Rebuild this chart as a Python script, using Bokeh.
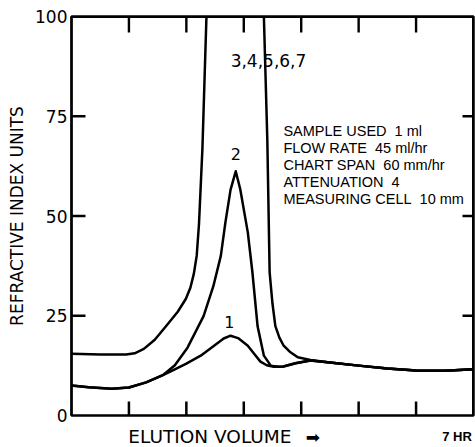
from bokeh.plotting import figure
from bokeh.models import Range1d, LinearAxis, FixedTicker, Label
from bokeh.layouts import column
from bokeh.embed import file_html
from bokeh.resources import INLINE

# ---- data (hours on chart, refractive index units) ----
hours_1 = [0.0, 0.3, 0.7, 1.0, 1.3, 1.6, 1.72, 2.0, 2.25, 2.5, 2.65, 2.77, 2.9, 3.07, 3.18,
           3.29, 3.4, 3.52, 3.69, 3.9, 4.16, 4.5, 5.0, 5.5, 6.0, 6.5, 7.0]
signal_1 = [7.5, 7.1, 6.7, 7.0, 8.3, 10.2, 11.0, 13.0, 15.0, 17.7, 19.3, 20.0, 19.4, 17.5, 15.5,
            13.5, 12.6, 12.2, 12.3, 13.1, 13.8, 13.3, 12.5, 11.8, 11.3, 11.2, 11.6]

hours_2 = [0.0, 0.3, 0.7, 1.0, 1.3, 1.6, 1.8, 2.02, 2.3, 2.47, 2.6, 2.68, 2.77, 2.86, 2.94,
           3.07, 3.15, 3.24, 3.35, 3.47, 3.6, 3.69, 3.9, 4.16, 4.5, 5.0, 5.5, 6.0, 6.5, 7.0]
signal_2 = [7.5, 7.1, 6.7, 7.0, 8.3, 10.2, 12.6, 17.0, 24.9, 32.4, 40.0, 48.4, 56.6, 61.2, 56.6,
            45.9, 35.9, 22.4, 15.0, 12.5, 12.2, 12.3, 13.1, 13.8, 13.3, 12.5, 11.8, 11.3, 11.2, 11.6]

hours_3 = [0.0, 0.5, 0.95, 1.1, 1.26, 1.45, 1.67, 1.85, 1.99, 2.07, 2.13, 2.18, 2.22, 2.28, 2.35,
           2.45, 2.85, 3.3, 3.35, 3.41, 3.45, 3.5, 3.55, 3.62, 3.69, 3.8, 3.94, 4.16, 4.5,
           5.0, 5.5, 6.0, 6.5, 7.0]
signal_3 = [15.5, 15.3, 15.3, 15.6, 16.7, 19.0, 22.8, 26.0, 29.2, 32.0, 35.5, 40.0, 48.0, 67.0, 100.0,
            125.0, 140.0, 120.0, 100.0, 69.0, 35.9, 28.0, 22.4, 19.5, 17.6, 16.0, 14.6, 13.9, 13.3,
            12.5, 11.8, 11.3, 11.2, 11.6]

y_ticks = [0, 25, 50, 75, 100]
side_ticks = [25, 50, 75]
x_ticks = [1, 2, 3, 4, 5, 6]
peak_labels = ["1", "2", "3,4,5,6,7"]
NB = "\u00a0"
info_lines = ["SAMPLE USED" + NB * 2 + "1 ml", "FLOW RATE" + NB * 2 + "45 ml/hr",
              "CHART SPAN" + NB * 2 + "60 mm/hr", "ATTENUATION" + NB * 2 + "4",
              "MEASURING CELL" + NB * 2 + "10 mm"]

FONT = "DejaVu Sans"
X0, X1, Y0, Y1 = 0, 7, 0, 100
W, H = 475, 425
BL, BR, BT, BB = 71, 2, 16, 10
FW, FH = W - BL - BR, H - BT - BB      # frame size in px
px_x = (X1 - X0) / FW                   # data units per px
px_y = (Y1 - Y0) / FH

p = figure(width=W, height=H, output_backend="svg", toolbar_location=None,
           x_range=Range1d(X0, X1), y_range=Range1d(Y0, Y1),
           x_axis_location=None, y_axis_location=None,
           min_border_left=BL, min_border_right=BR, min_border_top=BT, min_border_bottom=BB)
p.grid.visible = False
p.outline_line_color = "black"
p.outline_line_width = 2.5

left = LinearAxis(ticker=FixedTicker(ticks=y_ticks))
left.major_tick_in = 0
left.major_tick_out = 0
left.minor_tick_line_color = None
left.axis_line_width = 2
left.axis_line_color = "black"
left.major_label_text_font = FONT
left.major_label_text_font_size = "17px"
left.major_label_text_color = "black"
left.major_label_standoff = 4
left.axis_label = "REFRACTIVE INDEX UNITS"
left.axis_label_text_font = FONT
left.axis_label_text_font_size = "17px"
left.axis_label_text_font_style = "normal"
left.axis_label_text_color = "black"
left.axis_label_standoff = 5
p.add_layout(left, "left")

# frame edges (top and right) as thin filled bands inside the frame
edge = dict(fill_color="black", line_color=None)
p.quad(left=[X0], right=[X1], bottom=[Y1 - 1.5 * px_y], top=[Y1], **edge)
p.quad(left=[X1 - 1.5 * px_x], right=[X1], bottom=[Y0], top=[Y1], **edge)

# inward tick marks, placed at the tick values
hw_x, hw_y = 1.2 * px_x, 1.2 * px_y
p.quad(left=[X0] * 3, right=[X0 + 14 * px_x] * 3,
       bottom=[t - hw_y for t in side_ticks], top=[t + hw_y for t in side_ticks], **edge)
p.quad(left=[X1 - 11 * px_x] * 3, right=[X1] * 3,
       bottom=[t - hw_y for t in side_ticks], top=[t + hw_y for t in side_ticks], **edge)
p.quad(left=[t - hw_x for t in x_ticks], right=[t + hw_x for t in x_ticks],
       bottom=[Y1 - 16 * px_y] * 6, top=[Y1] * 6, **edge)
for t in x_ticks:
    p.line([t, t], [Y0, Y0 + 14 * px_y], line_color="black", line_width=2.5)

for xs, ys in [(hours_1, signal_1), (hours_2, signal_2), (hours_3, signal_3)]:
    p.line(xs, ys, line_color="black", line_width=2.5, line_join="round", line_cap="round")

p.add_layout(Label(x=2.75, y=23.5, text=peak_labels[0], text_font=FONT, text_font_size="16px",
                   text_align="center", text_baseline="middle", text_color="black"))
p.add_layout(Label(x=2.86, y=65.5, text=peak_labels[1], text_font=FONT, text_font_size="16px",
                   text_align="center", text_baseline="middle", text_color="black"))
p.add_layout(Label(x=3.43, y=89, text=peak_labels[2], text_font=FONT, text_font_size="17px",
                   text_align="center", text_baseline="middle", text_color="black"))

for i, line in enumerate(info_lines):
    p.add_layout(Label(x=3.69, y=71.3 - i * 4.25, text=line, text_font="Liberation Sans",
                       text_font_size="14.5px", text_align="left", text_baseline="middle",
                       text_color="black"))

# strip under the chart for the horizontal axis caption
s = figure(width=W, height=22, output_backend="svg", toolbar_location=None,
           x_range=Range1d(X0, X1), y_range=Range1d(0, 1),
           x_axis_location=None, y_axis_location=None,
           min_border_left=BL, min_border_right=BR, min_border_top=0, min_border_bottom=0)
s.grid.visible = False
s.outline_line_color = None
s.add_layout(Label(x=0.99, y=0.5, text="ELUTION VOLUME", text_font=FONT,
                   text_font_size="18.5px", text_align="left", text_baseline="middle",
                   text_color="black"))
s.add_layout(Label(x=4.08, y=0.5, text="\u27a1", text_font=FONT,
                   text_font_size="17px", text_align="left", text_baseline="middle",
                   text_color="black"))
s.add_layout(Label(x=6.97, y=0.5, text="7 HR", text_font="Liberation Sans",
                   text_font_size="13px", text_font_style="bold", text_align="right",
                   text_baseline="middle", text_color="black"))

layout = column(p, s, spacing=0)
open("out.html", "w").write(file_html(layout, INLINE))
